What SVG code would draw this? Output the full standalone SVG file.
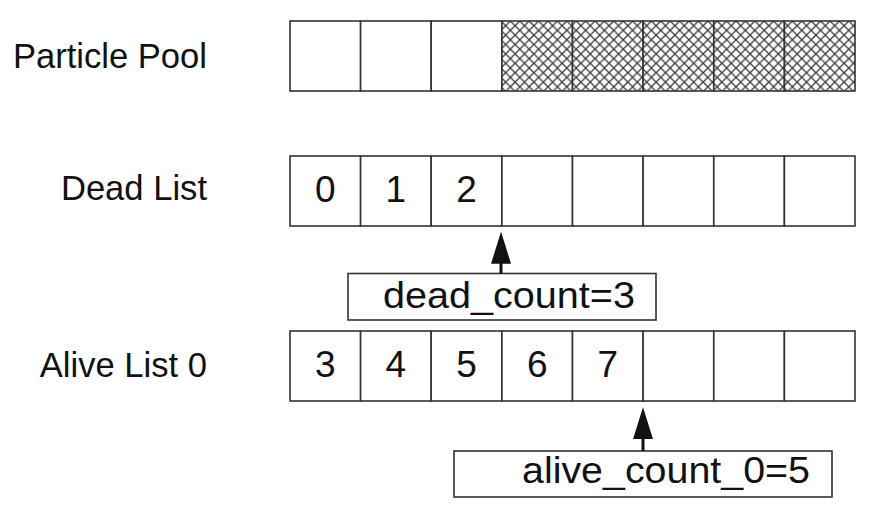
<svg xmlns="http://www.w3.org/2000/svg" width="878" height="520" viewBox="0 0 878 520">
  <style>
    .cell { fill: #ffffff; stroke: #333333; stroke-width: 1.6; }
    .hatch { fill: url(#xhatch); stroke: #333333; stroke-width: 1.6; }
    .lbl { font-family: "Liberation Sans", Arial, sans-serif; font-size: 34.6px; fill: #111111; text-anchor: end; }
    .num { font-family: "Liberation Sans", Arial, sans-serif; font-size: 37px; fill: #111111; text-anchor: middle; }
    .cnt { font-family: "Liberation Sans", Arial, sans-serif; font-size: 37px; fill: #111111; }
    .box { fill: #ffffff; stroke: #333333; stroke-width: 1.6; }
    .arrow { stroke: #111111; stroke-width: 3; fill: none; marker-end: url(#head); }
  </style>
  <defs>
    <pattern id="xhatch" patternUnits="userSpaceOnUse" x="501" y="21" width="9.4" height="9.4">
      <rect width="9.4" height="9.4" fill="#ffffff"/>
      <path d="M0,0 L9.4,9.4 M9.4,0 L0,9.4" stroke="#3a3a3a" stroke-width="1.3"/>
    </pattern>
    <marker id="head" markerUnits="userSpaceOnUse" viewBox="0 0 32 20" markerWidth="32" markerHeight="20" refX="23" refY="10" orient="auto">
      <path d="M0,0 L32,10 L0,20 Z" fill="#111111"/>
    </marker>
  </defs>
  <rect width="878" height="520" fill="#ffffff"/>

  <g id="particle-pool">
    <text class="lbl" x="207" y="67.5">Particle Pool</text>
    <rect class="cell" x="290" y="21" width="70.6" height="70"/>
    <rect class="cell" x="360.6" y="21" width="70.6" height="70"/>
    <rect class="cell" x="431.2" y="21" width="70.6" height="70"/>
    <rect class="hatch" x="501.9" y="21" width="70.6" height="70"/>
    <rect class="hatch" x="572.5" y="21" width="70.6" height="70"/>
    <rect class="hatch" x="643.1" y="21" width="70.6" height="70"/>
    <rect class="hatch" x="713.8" y="21" width="70.6" height="70"/>
    <rect class="hatch" x="784.4" y="21" width="70.6" height="70"/>
  </g>

  <g id="dead-list">
    <text class="lbl" x="207" y="200">Dead List</text>
    <rect class="cell" x="290" y="156" width="70.6" height="70"/>
    <rect class="cell" x="360.6" y="156" width="70.6" height="70"/>
    <rect class="cell" x="431.2" y="156" width="70.6" height="70"/>
    <rect class="cell" x="501.9" y="156" width="70.6" height="70"/>
    <rect class="cell" x="572.5" y="156" width="70.6" height="70"/>
    <rect class="cell" x="643.1" y="156" width="70.6" height="70"/>
    <rect class="cell" x="713.8" y="156" width="70.6" height="70"/>
    <rect class="cell" x="784.4" y="156" width="70.6" height="70"/>
    <text class="num" x="325.3" y="202">0</text>
    <text class="num" x="395.9" y="202">1</text>
    <text class="num" x="466.6" y="202">2</text>
  </g>

  <g id="alive-list-0">
    <text class="lbl" x="207" y="377">Alive List 0</text>
    <rect class="cell" x="290" y="331" width="70.6" height="70"/>
    <rect class="cell" x="360.6" y="331" width="70.6" height="70"/>
    <rect class="cell" x="431.2" y="331" width="70.6" height="70"/>
    <rect class="cell" x="501.9" y="331" width="70.6" height="70"/>
    <rect class="cell" x="572.5" y="331" width="70.6" height="70"/>
    <rect class="cell" x="643.1" y="331" width="70.6" height="70"/>
    <rect class="cell" x="713.8" y="331" width="70.6" height="70"/>
    <rect class="cell" x="784.4" y="331" width="70.6" height="70"/>
    <text class="num" x="325.3" y="377">3</text>
    <text class="num" x="395.9" y="377">4</text>
    <text class="num" x="466.6" y="377">5</text>
    <text class="num" x="537.2" y="377">6</text>
    <text class="num" x="607.8" y="377">7</text>
  </g>

  <g id="dead-count">
    <rect class="box" x="348" y="273.5" width="308" height="46.5"/>
    <text class="cnt" x="383" y="307.5" textLength="252" lengthAdjust="spacingAndGlyphs">dead_count=3</text>
  </g>

  <g id="alive-count-0">
    <rect class="box" x="454" y="451" width="378" height="46"/>
    <text class="cnt" x="522" y="483" textLength="288" lengthAdjust="spacingAndGlyphs">alive_count_0=5</text>
  </g>

  <g id="connectors">
    <line class="arrow" x1="501" y1="273.5" x2="501" y2="240.7"/>
    <line class="arrow" x1="643" y1="451" x2="643" y2="416.3"/>
  </g>
</svg>
